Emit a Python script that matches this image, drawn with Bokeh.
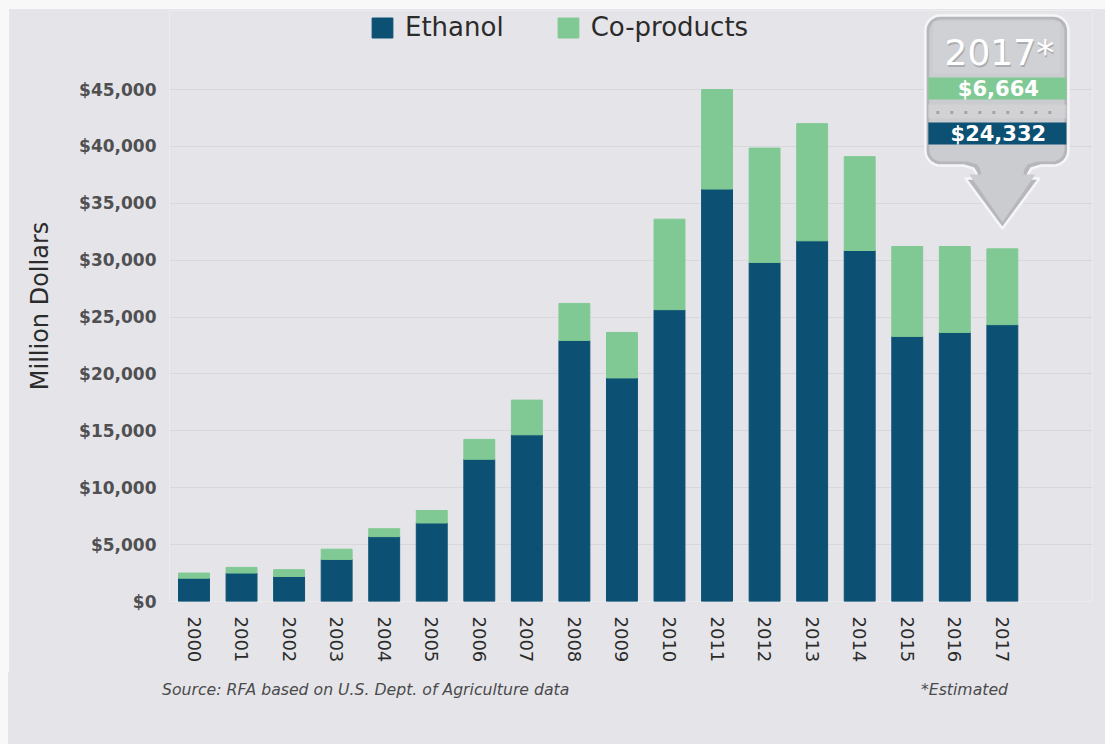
import math
from bokeh.plotting import figure
from bokeh.models import (ColumnDataSource, FixedTicker, NumeralTickFormatter, Legend,
                          LegendItem, Range1d, Div)
from bokeh.layouts import column, row
from bokeh.core.properties import value
from bokeh.embed import file_html
from bokeh.resources import INLINE

# ---------------- data ----------------
years = [2000, 2001, 2002, 2003, 2004, 2005, 2006, 2007, 2008,
         2009, 2010, 2011, 2012, 2013, 2014, 2015, 2016, 2017]
year_labels = [str(y) for y in years]
ethanol = [2050, 2500, 2200, 3700, 5700, 6900, 12500, 14650, 22950,
           19650, 25650, 36250, 29800, 31700, 30850, 23300, 23650, 24332]
coproducts = [450, 500, 600, 900, 700, 1100, 1750, 3050, 3250,
              4000, 7950, 8750, 10050, 10300, 8250, 7900, 7550, 6664]
series_names = ["Ethanol", "Co-products"]
y_tick_values = [0, 5000, 10000, 15000, 20000, 25000, 30000, 35000, 40000, 45000]
y_axis_title = "Million Dollars"
source_note = "Source: RFA based on U.S. Dept. of Agriculture data"
estimate_note = "*Estimated"
estimated_mark = "*"

# ---------------- style / geometry ----------------
ETH = "#0c5174"
COP = "#80c994"
BG = "#e5e5e9"
EDGE = "#f8f8f9"
FONT = "DejaVu Sans"

W, PAGE_H = 1105, 744
TOP_STRIP = 8
LEFT_STRIP = 8
MAIN_BOTTOM = 672                       # page px where the notes strip begins
H = MAIN_BOTTOM - TOP_STRIP
NOTES_H = PAGE_H - MAIN_BOTTOM
INNER_W = W - LEFT_STRIP
FL, FR, FT, FB = 169, 1092, 10, 601      # frame edges, page px
PX_PER_YEAR = 47.55
X0_PX = 193.5                            # first bar centre, page px
Y45_PX = 89                              # page px of the 45,000 gridline

dy = y_tick_values[-1] / (FB - Y45_PX)
x_start = years[0] - (X0_PX - FL) / PX_PER_YEAR
x_end = x_start + (FR - FL) / PX_PER_YEAR
y_end = (FB - FT) * dy


def X(px):
    return x_start + (px - FL) / PX_PER_YEAR


def Y(py):
    return (FB - py) * dy


p = figure(width=INNER_W, height=H, x_range=Range1d(x_start, x_end), y_range=Range1d(0, y_end),
           output_backend="svg", toolbar_location=None,
           min_border_left=FL - LEFT_STRIP, min_border_right=W - FR,
           min_border_top=FT - TOP_STRIP, min_border_bottom=MAIN_BOTTOM - FB,
           background_fill_color=BG, border_fill_color=BG, outline_line_color=None)

src = ColumnDataSource(dict(year=years, ethanol=ethanol, coproducts=coproducts))
rs = p.vbar_stack(["ethanol", "coproducts"], x="year", width=0.65,
                  color=[ETH, COP], source=src)

# ---------------- axes ----------------
p.xaxis.ticker = FixedTicker(ticks=years)
p.xaxis.major_label_overrides = {y: s for y, s in zip(years, year_labels)}
p.xaxis.major_label_orientation = -math.pi / 2
p.xaxis.axis_line_color = None
p.xaxis.major_tick_line_color = None
p.xaxis.minor_tick_line_color = None
p.xaxis.major_label_standoff = 9
p.xaxis.major_label_text_font = FONT
p.xaxis.major_label_text_font_size = "18px"
p.xaxis.major_label_text_color = "#2b2b2b"

p.yaxis.ticker = FixedTicker(ticks=y_tick_values)
p.yaxis.formatter = NumeralTickFormatter(format="$0,0")
p.yaxis.axis_line_color = None
p.yaxis.major_tick_line_color = None
p.yaxis.minor_tick_line_color = None
p.yaxis.major_label_standoff = 7
p.yaxis.major_label_text_font = FONT
p.yaxis.major_label_text_font_style = "bold"
p.yaxis.major_label_text_font_size = "17px"
p.yaxis.major_label_text_color = "#505053"
p.yaxis.axis_label = y_axis_title
p.yaxis.axis_label_text_font = FONT
p.yaxis.axis_label_text_font_style = "normal"
p.yaxis.axis_label_text_font_size = "24px"
p.yaxis.axis_label_text_color = "#2b2b2b"
p.yaxis.axis_label_standoff = 22

p.xgrid.grid_line_color = None
p.ygrid.grid_line_color = "#d7d7dc"
p.ygrid.grid_line_width = 1

# ---------------- legend ----------------
legend = Legend(items=[LegendItem(label=series_names[0], renderers=[rs[0]]),
                       LegendItem(label=series_names[1], renderers=[rs[1]])],
                orientation="horizontal", location=(200, 559),
                background_fill_alpha=0, border_line_alpha=0,
                label_text_font=FONT, label_text_font_size="26px",
                label_text_color="#2b2b2b", glyph_width=26, glyph_height=25,
                label_height=25, label_standoff=10, spacing=51, padding=0, margin=0)
p.add_layout(legend)

# ---------------- 2017 callout ----------------
tip_px = X0_PX + (len(years) - 1) * PX_PER_YEAR     # centre of last bar
tip_py = 228


def arc(cx, cy, r, a0, a1, n=8):
    pts = []
    for i in range(n + 1):
        t = math.radians(a0 + (a1 - a0) * i / n)
        pts.append((cx + r * math.cos(t), cy + r * math.sin(t)))
    return pts


def callout_shape(l, r, t, b, rad, inset=0.0):
    l, r, t, b = l + inset, r - inset, t + inset, b - inset
    pts = []
    pts += arc(l + rad, t + rad, rad, 180, 270)
    pts += arc(r - rad, t + rad, rad, 270, 360)
    pts += arc(r - rad, b - rad, rad, 0, 90)
    c = tip_px
    sw = 25 - inset
    aw = 37 - inset
    pts += [(c + sw + 14, b), (c + sw + 4, b + 3), (c + sw + 1, b + 8), (c + sw, b + 13),
            (c + aw, b + 13), (c, tip_py - inset * 1.6),
            (c - aw, b + 13), (c - sw, b + 13), (c - sw - 1, b + 8), (c - sw - 4, b + 3),
            (c - sw - 14, b)]
    pts += arc(l + rad, b - rad, rad, 90, 180)
    return [X(x) for x, _ in pts], [Y(y) for _, y in pts]


bl, br, bt, bb = tip_px - 77, tip_px + 66, 15, 165
xs, ys = callout_shape(bl, br, bt, bb, 15)
p.patch(xs, ys, fill_color="#b6b7bb", line_color="#f6f6f8", line_width=2.5)
xs2, ys2 = callout_shape(bl, br, bt, bb, 12, inset=4)
p.patch(xs2, ys2, fill_color="#cbccd0", line_color=None)
p.quad(left=[X(bl + 8)], right=[X(br - 8)], top=[Y(bt + 6)], bottom=[Y(bt + 58)],
       fill_color="#d6d6d9", fill_alpha=0.55, line_color=None)

# year text
p.text(x=[X(tip_px - 3) + 0.02], y=[Y(53) - 0.6 * dy], text=[year_labels[-1] + estimated_mark],
       text_font=value(FONT), text_font_size="36px", text_color="#8c8d91", text_alpha=0.55,
       text_align="center", text_baseline="middle")
p.text(x=[X(tip_px - 3)], y=[Y(52)], text=[year_labels[-1] + estimated_mark],
       text_font=value(FONT), text_font_size="36px", text_color="white",
       text_align="center", text_baseline="middle")

# co-products band
p.quad(left=[X(bl + 3)], right=[X(br - 2)], top=[Y(77)], bottom=[Y(99)],
       fill_color=COP, line_color=None)
p.text(x=[X(tip_px - 4)], y=[Y(88)], text=["${:,}".format(coproducts[-1])],
       text_font=value(FONT), text_font_style="bold", text_font_size="21px",
       text_color="white", text_align="center", text_baseline="middle")
# dotted separator
p.quad(left=[X(bl + 3)], right=[X(br - 2)], top=[Y(104)], bottom=[Y(118)],
       fill_color="#d4d4d7", fill_alpha=0.7, line_color=None)
p.line(x=[X(bl + 11), X(br - 6)], y=[Y(112), Y(112)], line_color="#a3a4a8",
       line_width=3, line_dash="3 11")
# ethanol band
p.quad(left=[X(bl + 3)], right=[X(br - 2)], top=[Y(122)], bottom=[Y(144)],
       fill_color=ETH, line_color=None)
p.text(x=[X(tip_px - 4)], y=[Y(133)], text=["${:,}".format(ethanol[-1])],
       text_font=value(FONT), text_font_style="bold", text_font_size="21px",
       text_color="white", text_align="center", text_baseline="middle")

# ---------------- notes strip (below the chart) ----------------
note_style = ("position:absolute;top:9px;font-family:'DejaVu Sans';font-style:italic;"
              "font-size:15.7px;color:#4a4a4c;white-space:nowrap;line-height:18px;")
notes_html = (
    '<div style="position:relative;width:%dpx;height:%dpx;background:%s;margin:0;">'
    '<span style="%sleft:%dpx;">%s</span>'
    '<span style="%sright:%dpx;">%s</span>'
    '</div>' % (INNER_W, NOTES_H, BG, note_style, 162 - LEFT_STRIP, source_note,
                note_style, W - 1008, estimate_note)
)
notes = Div(text=notes_html, width=INNER_W, height=NOTES_H, margin=0,
            styles={"background-color": BG})

top_strip = Div(text="", width=INNER_W, height=TOP_STRIP, margin=0,
                styles={"background-color": EDGE})
left_strip = Div(text="", width=LEFT_STRIP, height=PAGE_H, margin=0,
                 styles={"background-color": EDGE})
layout = row(left_strip, column(top_strip, p, notes, spacing=0), spacing=0)

with open("out.html", "w") as f:
    f.write(file_html(layout, INLINE))
